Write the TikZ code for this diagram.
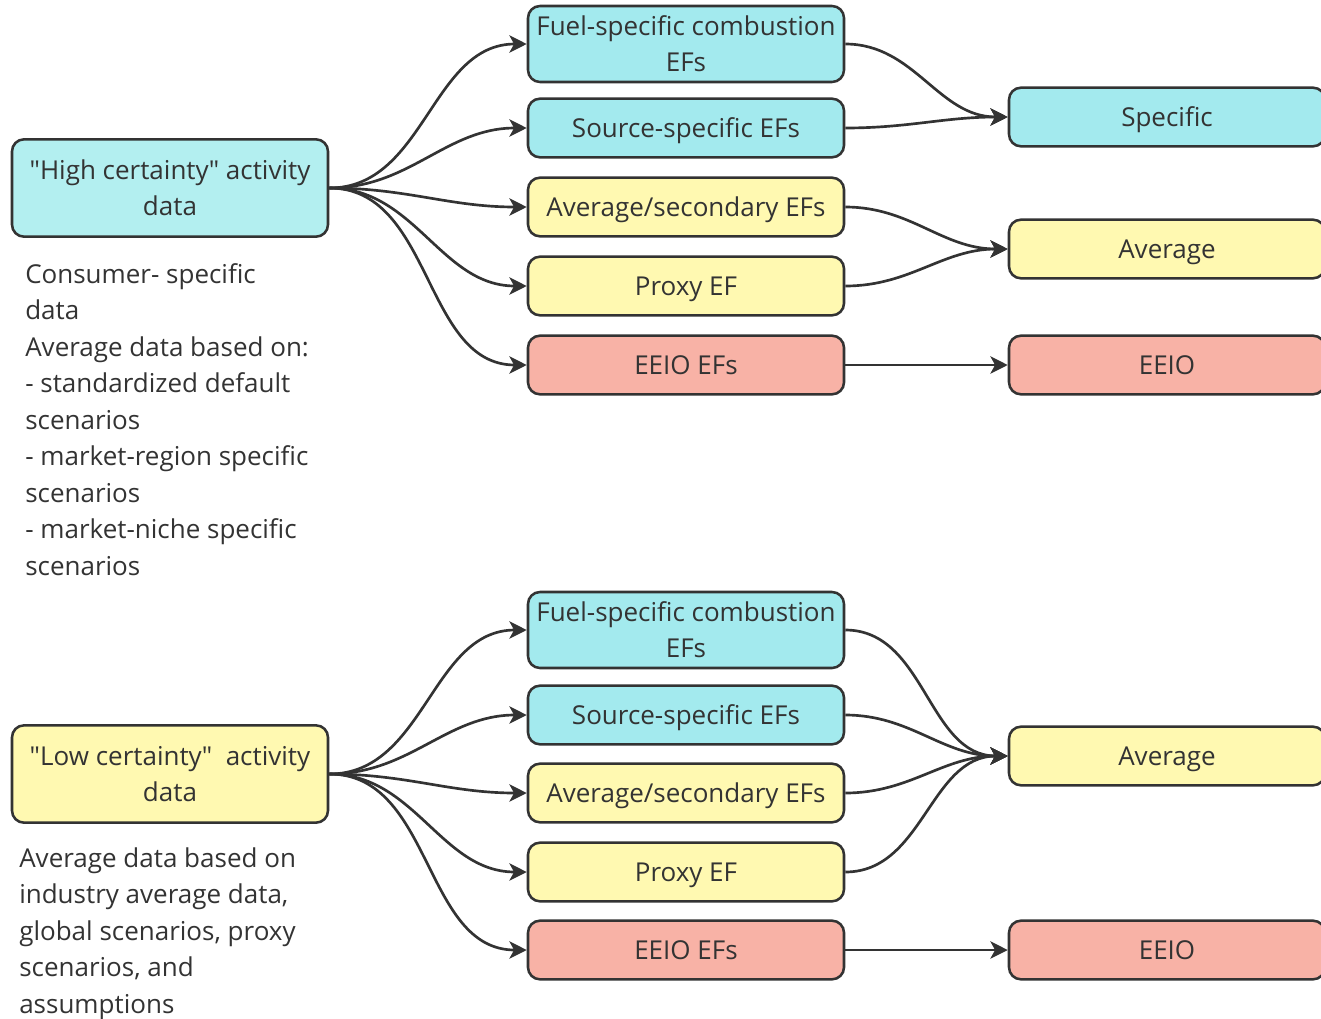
\documentclass[tikz,border=0pt]{standalone}
\usepackage{fontspec}
\setmainfont{Open Sans}
\usetikzlibrary{arrows.meta, positioning}
\definecolor{cyanbox}{HTML}{A3EAEE}
\definecolor{cyanlight}{HTML}{B3EFF0}
\definecolor{yellowbox}{HTML}{FFF9B1}
\definecolor{redbox}{HTML}{F8B2A6}
\definecolor{ink}{HTML}{333333}
\tikzset{
  box/.style={draw=ink, line width=1.9pt, rounded corners=9pt, text=ink, align=center,
    inner sep=0pt, minimum width=237pt, minimum height=44pt, font=\fontsize{19.5}{27}\selectfont},
  onebox/.style={box, text depth=0pt},
  twoline/.style={box, minimum height=57pt},
  srcbox/.style={box, minimum height=73pt},
  note/.style={text=ink, align=left, anchor=north west, inner sep=0pt, font=\fontsize{19.5}{27.4}\selectfont},
  conn/.style={draw=ink, line width=2pt, -{Stealth[length=13pt, width=13pt, inset=3.5pt]}},
}

\begin{document}
\begin{tikzpicture}[x=0.75pt, y=-0.75pt]
  \useasboundingbox (0,0) rectangle (1321,1018);
  % high certainty branch
  \node[srcbox, fill=cyanlight] (hi_data) at (170,188) {\textquotedbl High certainty\textquotedbl{} activity\\data};
  \node[note] (hi_note) at (25,263) {Consumer- specific\\data\\Average data based on:\\- standardized default\\scenarios\\- market-region specific\\scenarios\\- market-niche specific\\scenarios};
  \node[twoline, fill=cyanbox] (hi_fuel) at (686,44) {Fuel-specific combustion\\EFs};
  \node[onebox, fill=cyanbox] (hi_source) at (686,128) {Source-specific EFs};
  \node[onebox, fill=yellowbox] (hi_avg) at (686,207) {Average/secondary EFs};
  \node[onebox, fill=yellowbox] (hi_proxy) at (686,286) {Proxy EF};
  \node[onebox, fill=redbox] (hi_eeio) at (686,365) {EEIO EFs};
  \node[onebox, fill=cyanbox] (hi_specific) at (1167,117) {Specific};
  \node[onebox, fill=yellowbox] (hi_average) at (1167,249) {Average};
  \node[onebox, fill=redbox] (hi_eeio_out) at (1167,365) {EEIO};
  \foreach \t in {hi_fuel, hi_source, hi_avg, hi_proxy, hi_eeio}
    \draw[conn] (hi_data.east) to[out=0, in=180] (\t.west);
  \draw[conn] (hi_fuel.east) to[out=0, in=180] (hi_specific.west);
  \draw[conn] (hi_source.east) to[out=0, in=180] (hi_specific.west);
  \draw[conn] (hi_avg.east) to[out=0, in=180] (hi_average.west);
  \draw[conn] (hi_proxy.east) to[out=0, in=180] (hi_average.west);
  \draw[conn] (hi_eeio.east) -- (hi_eeio_out.west);

  % low certainty branch
  \node[srcbox, fill=yellowbox] (lo_data) at (170,774) {\textquotedbl Low certainty\textquotedbl~ activity\\data};
  \node[note] (lo_note) at (19,847) {Average data based on\\industry average data,\\global scenarios, proxy\\scenarios, and\\assumptions};
  \node[twoline, fill=cyanbox] (lo_fuel) at (686,630) {Fuel-specific combustion\\EFs};
  \node[onebox, fill=cyanbox] (lo_source) at (686,715) {Source-specific EFs};
  \node[onebox, fill=yellowbox] (lo_avg) at (686,793) {Average/secondary EFs};
  \node[onebox, fill=yellowbox] (lo_proxy) at (686,872) {Proxy EF};
  \node[onebox, fill=redbox] (lo_eeio) at (686,950) {EEIO EFs};
  \node[onebox, fill=yellowbox] (lo_average) at (1167,756) {Average};
  \node[onebox, fill=redbox] (lo_eeio_out) at (1167,950) {EEIO};
  \foreach \t in {lo_fuel, lo_source, lo_avg, lo_proxy, lo_eeio}
    \draw[conn] (lo_data.east) to[out=0, in=180] (\t.west);
  \foreach \s in {lo_fuel, lo_source, lo_avg, lo_proxy}
    \draw[conn] (\s.east) to[out=0, in=180] (lo_average.west);
  \draw[conn] (lo_eeio.east) -- (lo_eeio_out.west);
\end{tikzpicture}
\end{document}
